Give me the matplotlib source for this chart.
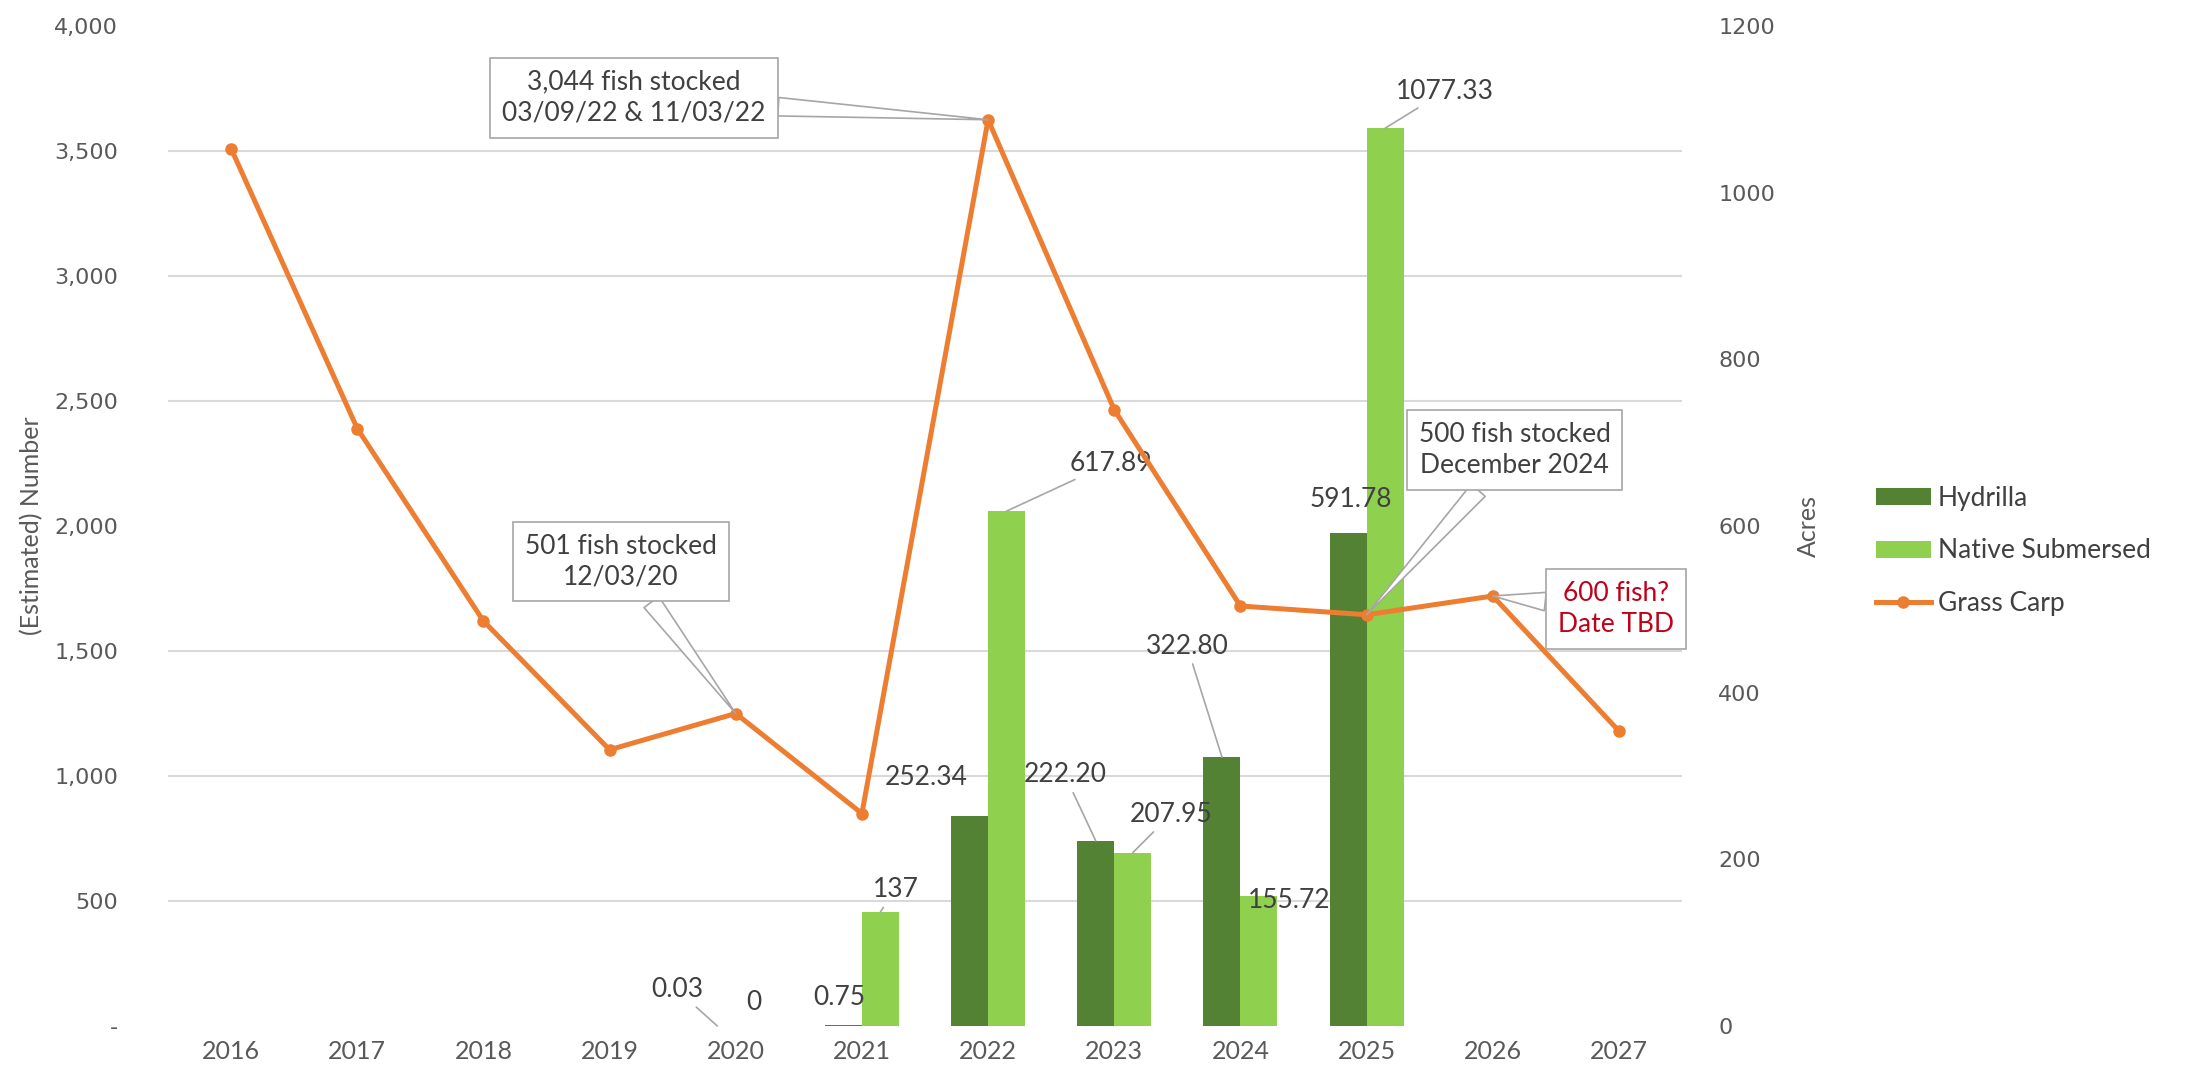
import numpy as np
import matplotlib.pyplot as plt
from matplotlib.ticker import FuncFormatter

# 年份与三组数据
years = ['2016', '2017', '2018', '2019', '2020', '2021', '2022', '2023', '2024', '2025', '2026', '2027']
hydrilla = [np.nan, np.nan, np.nan, np.nan, 0.03, 0.75, 252.34, 222.20, 322.80, 591.78, np.nan, np.nan]
native = [np.nan, np.nan, np.nan, np.nan, 0, 137, 617.89, 207.95, 155.72, 1077.33, np.nan, np.nan]
grass_carp = [3510, 2390, 1620, 1105, 1250, 850, 3625, 2465, 1680, 1645, 1720, 1180]

hyd_labels = ['', '', '', '', '0.03', '0.75', '252.34', '222.20', '322.80', '591.78', '', '']
nat_labels = ['', '', '', '', '0', '137', '617.89', '207.95', '155.72', '1077.33', '', '']
# 标签偏移(像素), 是否画引线
hyd_off = {4: (-40, 36, True), 5: (-4, 28, False), 6: (-43, 38, False), 7: (-31, 66, True),
           8: (-35, 111, True), 9: (3, 33, False)}
nat_off = {4: (0, 24, False), 5: (15, 22, True), 6: (104, 48, True), 7: (38, 38, True),
           8: (30, -4, False), 9: (60, 37, True)}

# 放养说明
notes = [(6, '3,044 fish stocked\n03/09/22 & 11/03/22', (-354, 22), '#404040'),
         (4, '501 fish stocked\n12/03/20', (-115, 152), '#404040'),
         (9, '500 fish stocked\nDecember 2024', (148, 165), '#404040'),
         (10, '600 fish?\nDate TBD', (123, -13), '#C00018')]

dark_green = '#548235'
light_green = '#8FD14F'
orange = '#ED7D31'
grey_txt = '#595959'
font = 'Lato'

fig = plt.figure(figsize=(21.93, 10.78), dpi=100)
ax = fig.add_axes([168/2193, 52/1078, 1514/2193, 1000/1078])
ax2 = ax.twinx()

x = np.arange(len(years))
w = 0.293
ax.bar(x - w/2, hydrilla, w, color=dark_green, label='Hydrilla', zorder=2)
ax.bar(x + w/2, native, w, color=light_green, label='Native Submersed', zorder=2)
ax.set_ylim(0, 1200)
ax.set_xlim(-0.5, len(years) - 0.5)

# 网格线按左轴刻度画在柱子下面
ax.set_yticks(np.linspace(0, 1200, 9), minor=True)
ax.grid(which='minor', axis='y', color='#D9D9D9', lw=1.5, zorder=0)
ax.set_yticks(np.arange(0, 1201, 200))
ax.yaxis.tick_right()
ax.yaxis.set_label_position('right')
ax.tick_params(axis='y', which='both', length=0, pad=26, labelsize=16, labelcolor=grey_txt)
for t in ax.get_yticklabels():
    t.set_fontfamily('DejaVu Sans')
ax.set_ylabel('Acres', fontsize=18, color=grey_txt, family=font, labelpad=16)

ax.set_xticks(x)
ax.set_xticklabels(years, fontsize=18, color=grey_txt, family=font)
ax.tick_params(axis='x', length=0, pad=10)
for s in ax.spines.values():
    s.set_visible(False)
for s in ax2.spines.values():
    s.set_visible(False)

# 草鱼数量折线
ax2.plot(x, grass_carp, color=orange, lw=3.6, marker='o', ms=8, label='Grass Carp', zorder=5)
ax2.set_ylim(0, 4000)
ax2.set_yticks(np.arange(0, 4001, 500))
ax2.yaxis.tick_left()
ax2.yaxis.set_label_position('left')
ax2.yaxis.set_major_formatter(FuncFormatter(lambda v, p: '-' if v == 0 else f'{v:,.0f}'))
ax2.tick_params(axis='y', length=0, pad=36, labelsize=16, labelcolor=grey_txt)
for t in ax2.get_yticklabels():
    t.set_fontfamily('DejaVu Sans')
ax2.set_ylabel('(Estimated) Number', fontsize=18, color=grey_txt, family=font, labelpad=8)

# 柱子数值标签
def bar_label(xi, val, txt, off):
    dx, dy, lead = off
    kw = {}
    if lead:
        kw['arrowprops'] = dict(arrowstyle='-', color='#A6A6A6', lw=1.2, shrinkA=2, shrinkB=0)
    ax.annotate(txt, xy=(xi, val), xytext=(dx, dy), textcoords='offset pixels',
                ha='center', va='center', fontsize=19, color='#404040', family=font,
                zorder=6, **kw)

for i in range(len(years)):
    if hyd_labels[i]:
        bar_label(x[i] - w/2, hydrilla[i], hyd_labels[i], hyd_off[i])
    if nat_labels[i]:
        bar_label(x[i] + w/2, native[i], nat_labels[i], nat_off[i])

# 说明框
for i, txt, off, col in notes:
    ax2.annotate(txt, xy=(x[i], grass_carp[i]), xytext=off, textcoords='offset pixels',
                 ha='center', va='center', fontsize=19, color=col, family=font,
                 linespacing=1.3, zorder=7,
                 bbox=dict(boxstyle='square,pad=0.45', fc='white', ec='#A6A6A6', lw=1.2),
                 arrowprops=dict(arrowstyle='wedge,tail_width=0.7,shrink_factor=0.5',
                                 fc='white', ec='#A6A6A6', lw=1.2, shrinkA=0, shrinkB=0))

# 图例
h1, l1 = ax.get_legend_handles_labels()
h2, l2 = ax2.get_legend_handles_labels()
fig.legend(h1 + h2, l1 + l2, loc='upper left', bbox_to_anchor=(1852/2193, 1 - 462/1078),
           frameon=False, prop={'family': font, 'size': 19}, labelcolor='#404040',
           handlelength=2.1, handleheight=0.6, handletextpad=0.25, labelspacing=1.05)

fig.savefig('out.png', dpi=100)
